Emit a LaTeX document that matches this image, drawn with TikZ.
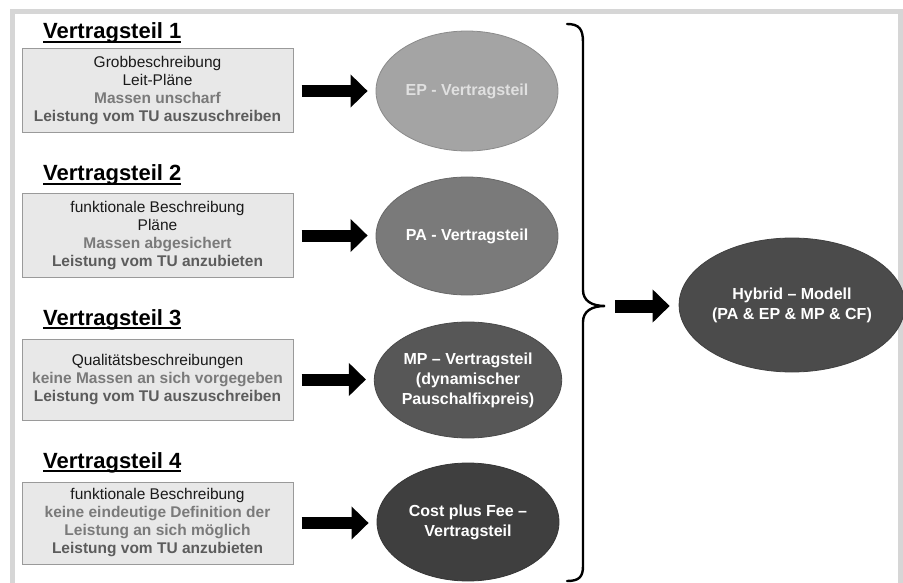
\documentclass[tikz,border=0pt]{standalone}
\usepackage{fontspec}
\setmainfont{Liberation Sans}
\usetikzlibrary{shapes.geometric,arrows.meta}

% heading with a heavy underline
\newcommand\headul[1]{\setbox0\hbox{#1}\rlap{\rule[-4pt]{\wd0}{2pt}}\box0}

\definecolor{frameband}{HTML}{D6D6D6}
\definecolor{boxfill}{HTML}{E8E8E8}
\definecolor{boxline}{HTML}{9A9A9A}
\definecolor{txtmain}{HTML}{1A1A1A}
\definecolor{txtgray}{HTML}{7A7A7A}
\definecolor{txtdark}{HTML}{5C5C5C}
\definecolor{epfill}{HTML}{A4A4A4}
\definecolor{pafill}{HTML}{7A7A7A}
\definecolor{mpfill}{HTML}{575757}
\definecolor{cffill}{HTML}{3F3F3F}
\definecolor{hyfill}{HTML}{4B4B4B}

\tikzset{
  headline/.style={anchor=base west, inner sep=0pt,
    font=\fontsize{22}{26}\selectfont\bfseries},
  infobox/.style={rectangle, draw=boxline, fill=boxfill, line width=1pt,
    minimum width=271pt, align=center, inner sep=0pt,
    font=\fontsize{15.5}{18}\selectfont, text=txtmain},
  blob/.style={ellipse, draw=#1!85!black, fill=#1, line width=0.8pt,
    minimum width=182pt, minimum height=118pt, inner sep=0pt,
    align=center, text=white,
    font=\fontsize{16}{20}\selectfont\bfseries},
  blockarrow/.style={line width=12pt, draw=black,
    -{Triangle[length=17pt 0 0, width=32pt 0 0]}},
  bracket/.style={line width=2.4pt, draw=black, line cap=round}
}
\newcommand\gt[1]{\textcolor{txtgray}{\bfseries #1}}
\newcommand\dt[1]{\textcolor{txtdark}{\bfseries #1}}

\begin{document}
\begin{tikzpicture}[x=1pt, y=-1pt]
\useasboundingbox (0,0) rectangle (903,583);

% outer frame bands (top, left, right)
\fill[frameband] (10,9) rectangle (903,14);
\fill[frameband] (10,9) rectangle (15,583);
\fill[frameband] (898,14) rectangle (903,583);

% headings
\node[headline] (h1) at (43,39)  {\headul{Vertragsteil 1}};
\node[headline] (h2) at (43,181) {\headul{Vertragsteil 2}};
\node[headline] (h3) at (43,325) {\headul{Vertragsteil 3}};
\node[headline] (h4) at (43,468) {\headul{Vertragsteil 4}};

% description boxes
\node[infobox, minimum height=84pt] (b1) at (157.5,91)
  {Grobbeschreibung\\Leit-Pläne\\\gt{Massen unscharf}\\\dt{Leistung vom TU auszuschreiben}};
\node[infobox, minimum height=83pt] (b2) at (157.5,235.5)
  {funktionale Beschreibung\\Pläne\\\gt{Massen abgesichert}\\\dt{Leistung vom TU anzubieten}};
\node[infobox, minimum height=81pt] (b3) at (157.5,379.5)
  {Qualitätsbeschreibungen\\\gt{keine Massen an sich vorgegeben}\\\dt{Leistung vom TU auszuschreiben}};
\node[infobox, minimum height=82pt] (b4) at (157.5,523)
  {funktionale Beschreibung\\\gt{keine eindeutige Definition der}\\\gt{Leistung an sich möglich}\\\dt{Leistung vom TU anzubieten}};

% contract-part ellipses
\node[blob=epfill, text=white!88!black, minimum height=120pt] (ep) at (467,91) {EP - Vertragsteil};
\node[blob=pafill] (pa) at (467,236) {PA - Vertragsteil};
\node[blob=mpfill, minimum height=116pt] (mp) at (468,380) {MP – Vertragsteil\\(dynamischer\\Pauschalfixpreis)};
\node[blob=cffill] (cf) at (468,522) {Cost plus Fee –\\Vertragsteil};

% hybrid model
\node[blob=hyfill, minimum width=200pt, minimum height=134pt] (hy) at (792,305)
  {Hybrid – Modell\\(PA \& EP \& MP \& CF)};

% arrows from boxes to ellipses
\foreach \s/\t in {b1/ep, b2/pa, b3/mp, b4/cf}
  \draw[blockarrow, shorten <=8pt, shorten >=8pt] (\s.east) -- (\s.east -| \t.west);

% curly bracket gathering the four parts
\coordinate (btop) at (567,24);
\coordinate (btip) at (605,306);
\coordinate (bbot) at (567,581);
\draw[bracket] (btop) .. controls (579,24) and (583,29) .. (583,42)
  -- (583,290) .. controls (583,301) and (592,306) .. (btip)
  .. controls (592,306) and (583,311) .. (583,322)
  -- (583,566) .. controls (583,577) and (579,581) .. (bbot);

% arrow to the hybrid model
\draw[blockarrow, line width=13pt, shorten <=10pt, shorten >=9pt] (btip) -- (btip -| hy.west);

\end{tikzpicture}
\end{document}
